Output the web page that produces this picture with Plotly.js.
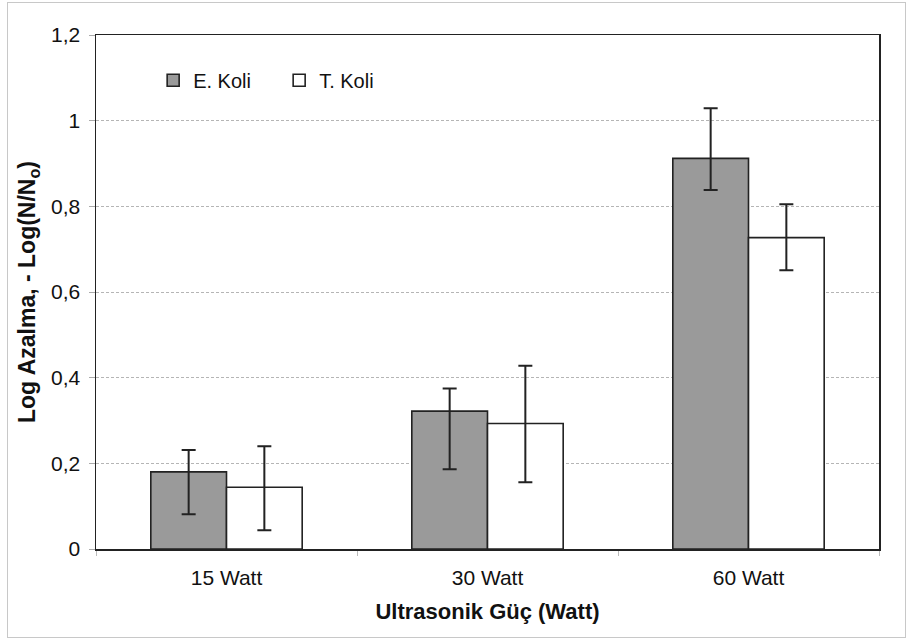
<!DOCTYPE html>
<html>
<head>
<meta charset="utf-8">
<script src="https://cdn.plot.ly/plotly-3.0.1.min.js"></script>
<style>
  html, body { margin: 0; padding: 0; background: #fff; }
  #chart { width: 911px; height: 641px; position: absolute; left: 0; top: 0; }
  #frame { position: absolute; left: 7px; top: 2px; width: 897px; height: 634px; border: 1px solid #c8c8c8; pointer-events: none; }
</style>
</head>
<body>
<div id="chart"></div>
<div id="frame"></div>
<script>
// Data
const categories = ["15 Watt", "30 Watt", "60 Watt"];
const eKoli = [0.180, 0.322, 0.912];
const eKoliErrPlus = [0.051, 0.053, 0.117];
const eKoliErrMinus = [0.099, 0.136, 0.074];
const tKoli = [0.144, 0.293, 0.727];
const tKoliErrPlus = [0.096, 0.135, 0.078];
const tKoliErrMinus = [0.100, 0.137, 0.076];
const seriesNames = ["E. Koli", "T. Koli"];
const yTicks = [0, 0.2, 0.4, 0.6, 0.8, 1, 1.2];

const errStyle = { color: "#222", thickness: 2, width: 7 };

const traces = [
  {
    type: "bar", name: seriesNames[0], x: categories, y: eKoli,
    marker: { color: "#9a9a9a", line: { color: "#222", width: 1.6 } },
    error_y: Object.assign({ type: "data", symmetric: false, array: eKoliErrPlus, arrayminus: eKoliErrMinus }, errStyle),
    hoverinfo: "skip"
  },
  {
    type: "bar", name: seriesNames[1], x: categories, y: tKoli,
    marker: { color: "#ffffff", line: { color: "#222", width: 1.6 } },
    error_y: Object.assign({ type: "data", symmetric: false, array: tKoliErrPlus, arrayminus: tKoliErrMinus }, errStyle),
    hoverinfo: "skip"
  }
];

const layout = {
  width: 911, height: 641,
  margin: { l: 96, r: 32, t: 35, b: 92 },
  paper_bgcolor: "#fff", plot_bgcolor: "#fff",
  separators: ", ",
  font: { family: "Liberation Sans, Arial, sans-serif", size: 21, color: "#111" },
  barmode: "group",
  bargap: 0.42,
  bargroupgap: 0,
  showlegend: true,
  legend: {
    orientation: "h", x: 0.073, y: 0.912, xanchor: "left", yanchor: "middle",
    bgcolor: "rgba(0,0,0,0)", font: { size: 20 },
    entrywidth: 81, entrywidthmode: "pixels", traceorder: "normal"
  },
  xaxis: {
    type: "category",
    showline: true, mirror: true, linecolor: "#222", linewidth: 1.5,
    ticks: "outside", tickson: "boundaries", ticklen: 5, tickcolor: "#bbb",
    ticklabelstandoff: 9,
    tickfont: { size: 21 },
    title: { text: "<b>Ultrasonik Güç (Watt)</b>", font: { size: 22 }, standoff: 16 },
    showgrid: false, zeroline: false, fixedrange: true
  },
  yaxis: {
    range: [0, 1.2], tickvals: yTicks,
    showline: true, mirror: true, linecolor: "#222", linewidth: 1.5,
    ticks: "outside", ticklen: 6, tickcolor: "#aaa",
    ticklabelstandoff: 4,
    tickfont: { size: 21 },
    showgrid: true, gridcolor: "#b5b5b5", gridwidth: 1, griddash: "3px,2px",
    zeroline: false,
    title: { text: "<b>Log Azalma, - Log(N/N<sub>o</sub>)</b>", font: { size: 23 }, standoff: 9 },
    fixedrange: true
  }
};

Plotly.newPlot("chart", traces, layout, { displayModeBar: false, staticPlot: true });
</script>
</body>
</html>
